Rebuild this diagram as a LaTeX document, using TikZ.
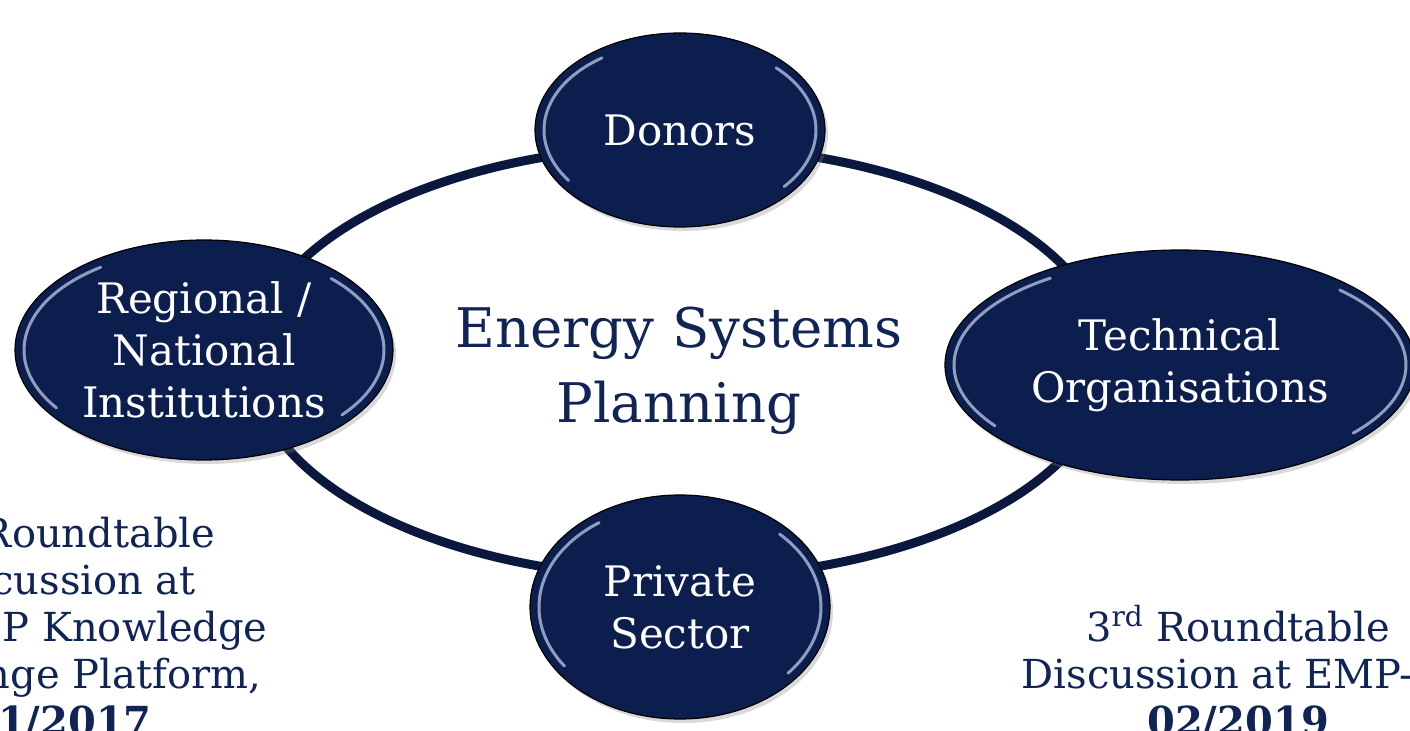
\documentclass[tikz,border=0pt]{standalone}
\usepackage{fontspec}
\setmainfont{DejaVu Serif}
\usetikzlibrary{calc,shapes.geometric,shadows}
\definecolor{navy}{RGB}{12,30,78}
\definecolor{ringnavy}{RGB}{10,24,62}
\definecolor{inknavy}{RGB}{16,36,86}
\definecolor{rimblue}{RGB}{200,212,238}
\newcommand{\shine}[3]{
	\draw[rim] ($(#1.center)+(125:#2 and #3)$) arc[start angle=125, end angle=215, x radius=#2, y radius=#3];
	\draw[rim] ($(#1.center)+(-40:#2 and #3)$) arc[start angle=-40, end angle=45, x radius=#2, y radius=#3];
}

\begin{document}
\begin{tikzpicture}[x=0.5pt,y=0.5pt,
	actor/.style={ellipse, fill=navy, draw=black, line width=0.6pt, text=white, align=center, inner sep=0pt,
		font=\fontsize{21}{26}\selectfont, drop shadow={opacity=0.3, shadow xshift=1.5pt, shadow yshift=-2pt}},
	rim/.style={rimblue, line width=1.5pt, line cap=round, opacity=0.7},
	note/.style={inknavy, align=center, font=\fontsize{20}{23.5}\selectfont}]
	\useasboundingbox (0,0) rectangle (1410,730);

	\coordinate (hub) at (680,368);
	\draw[ringnavy, line width=4.5pt] (hub) ellipse [x radius=428, y radius=216];
	\node[inknavy, align=center, font=\fontsize{27.3}{37.5}\selectfont] (plan) at (679,359) {Energy Systems\\Planning};

	% sizes in pt (half the pixel size)
	\node[actor, minimum width=145pt, minimum height=97pt] (donors) at (680,600) {Donors};
	\node[actor, minimum width=189pt, minimum height=110pt] (regional) at (204,380) {Regional /\\National\\Institutions};
	\node[actor, minimum width=235pt, minimum height=115pt] (technical) at (1180,365) {Technical\\Organisations};
	\node[actor, minimum width=150pt, minimum height=112pt] (private) at (680,123) {Private\\Sector};

	\shine{donors}{136}{88}
	\shine{regional}{180}{101}
	\shine{technical}{226}{106}
	\shine{private}{141}{103}

	\node[note] (round2) at (61,105) {2\textsuperscript{nd} Roundtable\\Discussion at\\the EMP Knowledge\\Exchange Platform,\\\textbf{11/2017}};
	\node[note] (round3) at (1238,58) {3\textsuperscript{rd} Roundtable\\Discussion at EMP-A,\\\textbf{02/2019}};
\end{tikzpicture}
\end{document}
